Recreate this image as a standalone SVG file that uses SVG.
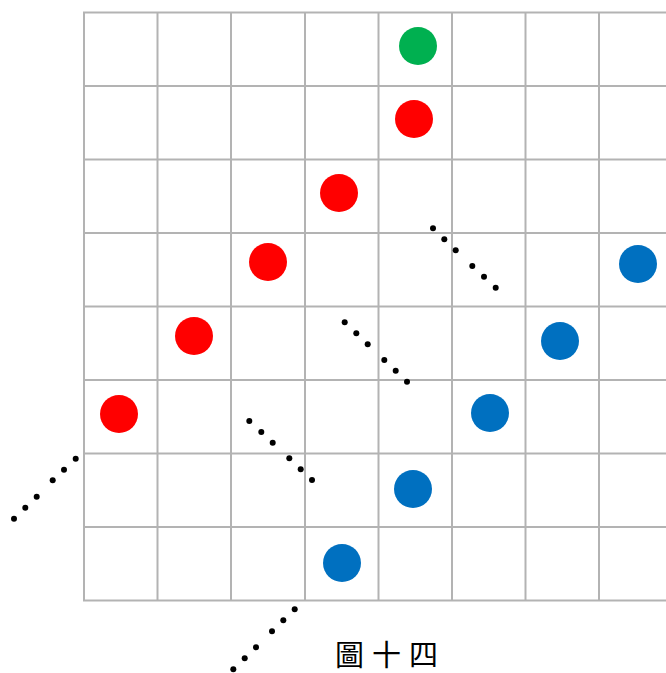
<svg xmlns="http://www.w3.org/2000/svg" width="666" height="673" viewBox="0 0 666 673">
<style>
.g{stroke:#b3b3b3;stroke-width:2;fill:none}
.r{fill:#ff0000}
.b{fill:#0070c0}
.gr{fill:#00b050}
.d{fill:#000}
.t{font-family:"Liberation Serif","Noto Sans CJK TC",serif;font-size:29px;fill:#000}
</style>
<rect width="666" height="673" fill="#fff"/>
<g id="grid" class="g">
<path d="M84,12V601M157.5,12V601M231,12V601M305,12V601M378.5,12V601M452,12V601M525.5,12V601M599,12V601"/>
<path d="M83,12.5H666M83,86H666M83,159.5H666M83,233H666M83,306.5H666M83,380H666M83,453.5H666M83,600.5H666M83,527H666"/>
</g>
<g id="green"><circle class="gr" cx="418" cy="46" r="19"/></g>
<g id="red">
<circle class="r" cx="414" cy="119" r="19"/>
<circle class="r" cx="339" cy="193" r="19"/>
<circle class="r" cx="268" cy="262" r="19"/>
<circle class="r" cx="194" cy="336" r="19"/>
<circle class="r" cx="119" cy="414" r="19"/>
</g>
<g id="blue">
<circle class="b" cx="638" cy="264" r="19"/>
<circle class="b" cx="560" cy="341" r="19"/>
<circle class="b" cx="490" cy="413" r="19"/>
<circle class="b" cx="413" cy="489" r="19"/>
<circle class="b" cx="342" cy="563" r="19"/>
</g>
<g id="dots1" class="d">
<circle cx="433" cy="228.3" r="3"/><circle cx="444.3" cy="239.3" r="3"/><circle cx="455.7" cy="250.3" r="3"/>
<circle cx="472.3" cy="266" r="3"/><circle cx="484" cy="276.7" r="3"/><circle cx="495.7" cy="287.7" r="3"/>
</g>
<g id="dots2" class="d">
<circle cx="344.7" cy="322.3" r="3"/><circle cx="356.3" cy="333.3" r="3"/><circle cx="367.7" cy="344.3" r="3"/>
<circle cx="384.3" cy="360" r="3"/><circle cx="395.7" cy="370.7" r="3"/><circle cx="407" cy="381.7" r="3"/>
</g>
<g id="dots3" class="d">
<circle cx="249.3" cy="421" r="3"/><circle cx="261.3" cy="432" r="3"/><circle cx="272.7" cy="442.7" r="3"/>
<circle cx="289.3" cy="458.3" r="3"/><circle cx="300.7" cy="469.3" r="3"/><circle cx="312" cy="480" r="3"/>
</g>
<g id="dots4" class="d">
<circle cx="75.7" cy="458.7" r="3"/><circle cx="64" cy="469.7" r="3"/><circle cx="52.7" cy="480.3" r="3"/>
<circle cx="36.7" cy="496.7" r="3"/><circle cx="25.3" cy="507.7" r="3"/><circle cx="14" cy="518.7" r="3"/>
</g>
<g id="dots5" class="d">
<circle cx="294.7" cy="609.3" r="3"/><circle cx="283.3" cy="620.3" r="3"/><circle cx="272" cy="631.3" r="3"/>
<circle cx="256" cy="647.3" r="3"/><circle cx="244.7" cy="658.3" r="3"/><circle cx="233.3" cy="669.3" r="3"/>
</g>
<text id="caption" class="t" x="335" y="666" letter-spacing="8">圖十四</text>
</svg>
